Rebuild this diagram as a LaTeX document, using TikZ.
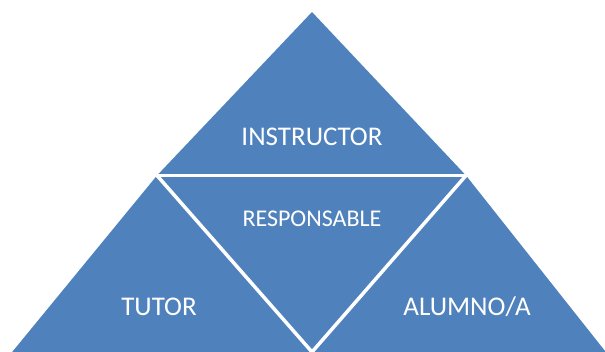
\documentclass[tikz,border=0pt]{standalone}
\usepackage{fontspec}
\setmainfont{Carlito}
\definecolor{pyr}{HTML}{4F81BD}
\begin{document}
\begin{tikzpicture}[x=1pt,y=1pt,
  lbl/.style={text=white, inner sep=0pt, anchor=base},
  big/.style={font=\fontsize{27}{27}\selectfont},
  small/.style={font=\fontsize{24}{24}\selectfont},
  gap/.style={draw=white, line width=3.5pt}]
\useasboundingbox (0,0) rectangle (605,351);
\clip (0,0) rectangle (605,351);
\coordinate (A) at (312,339);
\coordinate (B) at (157,175.5);
\coordinate (C) at (466,175.5);
\coordinate (D) at (312,-1);
\coordinate (E) at (9.7,-4);
\coordinate (F) at (608.2,-4);
\fill[pyr] (A) -- (B) -- (E) -- (F) -- (C) -- cycle;
\draw[gap] (B) -- (C);
\draw[gap] (B) -- (D);
\draw[gap] (C) -- (D);
\node[lbl, big] (instr) at (312,205.3) {INSTRUCTOR};
\node[lbl, small] (resp) at (312,124.3) {RESPONSABLE};
\node[lbl, big] (tutor) at (159,35.3) {TUTOR};
\node[lbl, big] (alum) at (467,35.3) {ALUMNO/A};
\end{tikzpicture}
\end{document}
